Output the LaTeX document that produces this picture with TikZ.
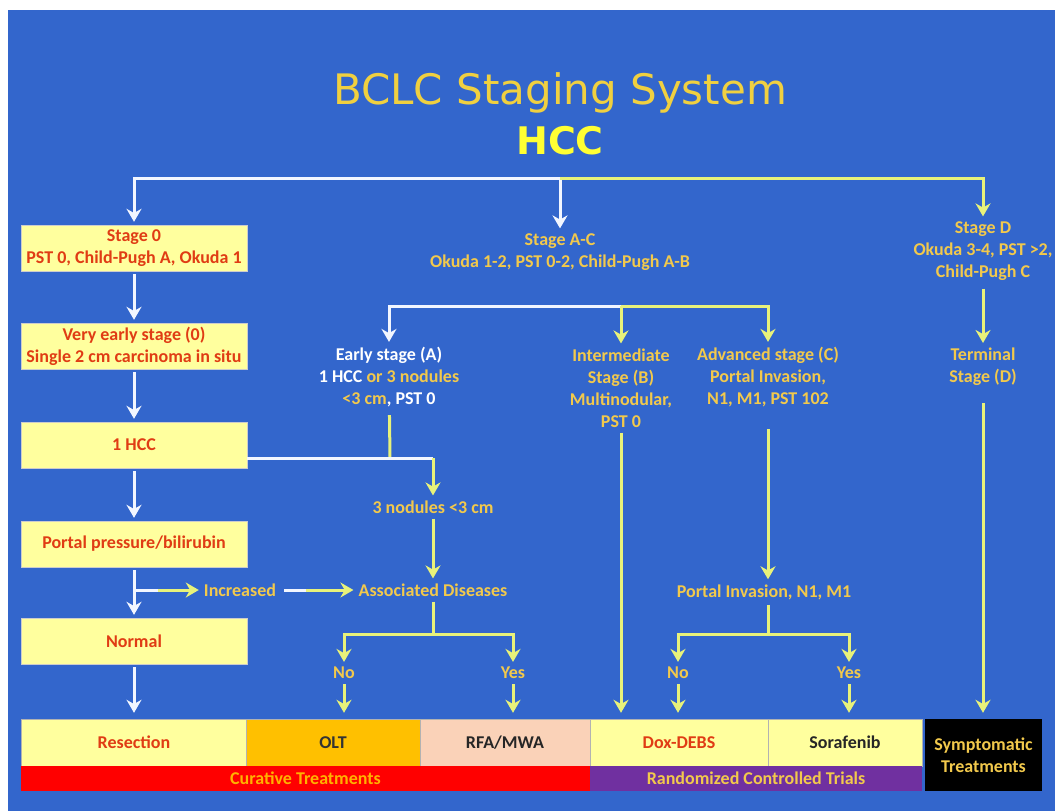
\documentclass[tikz,border=0pt]{standalone}
\usepackage{fontspec}
\setmainfont{Carlito}
\newfontfamily\titlefont{DejaVu Sans}
\usetikzlibrary{arrows.meta}

\definecolor{slideblue}{HTML}{3366CC}
\definecolor{gold}{HTML}{F2C94C}
\definecolor{titlegold}{HTML}{F0D040}
\definecolor{hccyellow}{HTML}{FFFF33}
\definecolor{paleyellow}{HTML}{FFFF9E}
\definecolor{boxred}{HTML}{E03C14}
\definecolor{oltorange}{HTML}{FFC000}
\definecolor{peach}{HTML}{FAD2B8}
\definecolor{trialpurple}{HTML}{7030A0}
\definecolor{lineyellow}{HTML}{E8F27A}
\definecolor{linewhite}{HTML}{F2F6FF}

\begin{document}
\begin{tikzpicture}[x=1pt, y=-1pt,
    txt/.style={align=center, inner sep=2pt, text=gold,
      font=\fontsize{18}{22}\selectfont\bfseries},
    leftbox/.style={txt, draw=white!60!gray, fill=paleyellow, text=boxred,
      minimum width=226pt, minimum height=46pt},
    treatbox/.style={txt, draw=gray!60, fill=paleyellow,
      minimum height=47pt},
    barbox/.style={txt, minimum height=25pt, inner sep=0pt},
    wline/.style={draw=linewhite, line width=3pt},
    yline/.style={draw=lineyellow, line width=3pt},
    tip/.style={-{Stealth[length=13pt, width=15pt]}, shorten >=3pt},
    warr/.style={wline, tip, shorten <=3pt},
    yarr/.style={yline, tip, shorten <=3pt}]

  % Background
  \useasboundingbox (0,0) rectangle (1055,811);
  \fill[white] (0,0) rectangle (1055,811);
  \fill[slideblue] (8,10) rectangle (1055,811);

  % Title
  \node[font=\titlefont\fontsize{42}{48}\selectfont, text=titlegold] (title) at (560,93) {BCLC Staging System};
  \node[font=\titlefont\bfseries\fontsize{38}{44}\selectfont, text=hccyellow] (hcc) at (560,141) {HCC};

  % Stage nodes
  \coordinate (top) at (560,178);
  \node[txt] (sac) at (560,252) {Stage A-C\\Okuda 1-2, PST 0-2, Child-Pugh A-B};
  \node[txt] (sd) at (983,251) {Stage D\\Okuda 3-4, PST >2,\\Child-Pugh C};

  % Left column
  \node[leftbox] (s0) at (134,248) {Stage 0\\PST 0, Child-Pugh A, Okuda 1};
  \node[leftbox] (ve) at (134,346) {Very early stage (0)\\Single 2 cm carcinoma in situ};
  \node[leftbox] (hc) at (134,445) {1 HCC};
  \node[leftbox] (pp) at (134,544) {Portal pressure/bilirubin};
  \node[leftbox] (nm) at (134,641) {Normal};

  % Stages A, B, C and D
  \coordinate (mid) at (621,306);
  \node[txt] (ea) at (389,377) {\textcolor{white}{Early stage (A)}\\\textcolor{white}{1 HCC} or 3 nodules\\<3 cm\textcolor{white}{, PST 0}};
  \node[txt] (ib) at (621,388) {Intermediate\\Stage (B)\\Multinodular,\\PST 0};
  \node[txt] (ac) at (768,377) {Advanced stage (C)\\Portal Invasion,\\N1, M1, PST 102};
  \node[txt] (td) at (983,367) {Terminal\\Stage (D)};

  % Decision nodes
  \coordinate (jn) at (390,458);
  \node[txt] (tn) at (433,507) {3 nodules <3 cm};
  \coordinate (br) at (134,590);
  \node[txt] (inc) at (240,590) {Increased};
  \node[txt] (ad) at (433,590) {Associated Diseases};
  \coordinate (adj) at (433,634);
  \node[txt] (no1) at (344,673) {No};
  \node[txt] (yes1) at (513,673) {Yes};
  \node[txt] (pin) at (764,592) {Portal Invasion, N1, M1};
  \coordinate (pij) at (768,634);
  \node[txt] (no2) at (678,673) {No};
  \node[txt] (yes2) at (849,673) {Yes};

  % Treatments
  \node[treatbox, text=boxred, minimum width=226pt] (res) at (134,742.5) {Resection};
  \node[treatbox, fill=oltorange, text=black!80, minimum width=174pt] (olt) at (333,742.5) {OLT};
  \node[treatbox, fill=peach, text=black!85, minimum width=170pt] (rfa) at (505,742.5) {RFA/MWA};
  \node[treatbox, text=boxred, minimum width=178pt] (dox) at (679,742.5) {Dox-DEBS};
  \node[treatbox, text=black!85, minimum width=154pt] (sor) at (845,742.5) {Sorafenib};
  \node[txt, fill=black, minimum width=117pt, minimum height=72pt] (sym) at (983.5,755) {Symptomatic\\Treatments};
  \node[barbox, fill=red, text=orange!60!yellow, minimum width=569pt] (cur) at (305.5,778.5) {Curative Treatments};
  \node[barbox, fill=trialpurple, minimum width=332pt] (rct) at (756,778.5) {Randomized Controlled Trials};

  % Connections
  \draw[wline, tip] (top) -| (s0);
  \draw[wline, tip] (top) -- (sac);
  \draw[yline, tip] (top) -| (sd);
  \draw[warr] (s0) -- (ve);
  \draw[warr] (ve) -- (hc);
  \draw[warr] (hc) -- (pp);
  \draw[warr] (pp) -- (nm);
  \draw[warr, shorten >=6pt] (nm) -- (res);
  \draw[wline, tip] (mid) -| (ea);
  \draw[yline, tip] (mid) -- (ib);
  \draw[yline, tip] (mid) -| (ac);
  \draw[yarr, shorten <=6pt] (sd) -- (td);
  \draw[yline, shorten <=6pt] (ea) -- (jn);
  \draw[wline] (hc.east |- jn) -- (jn -| tn);
  \draw[yline, tip] (jn -| tn) -- (tn);
  \draw[yarr] (tn) -- (ad);
  \draw[wline] (br) -- (br -| 160,0);
  \draw[yline, tip] (br -| 158,0) -- (inc);
  \draw[wline] (inc.east) ++(6,0) -- ++(24,0);
  \draw[yline, tip] (inc.east) ++(28,0) -- (ad);
  \draw[yline, shorten <=3pt] (ad) -- (adj);
  \draw[yline, tip] (adj) -| (no1);
  \draw[yline, tip] (adj) -| (yes1);
  \draw[yarr, shorten >=6pt] (no1) -- (no1 |- olt.north);
  \draw[yarr, shorten >=6pt] (yes1) -- (yes1 |- rfa.north);
  \draw[yarr, shorten >=6pt] (ib) -- (ib |- dox.north);
  \draw[yarr, shorten <=20pt] (ac) -- (ac |- pin.north);
  \draw[yline, shorten <=3pt] (pin.south -| pij) -- (pij);
  \draw[yline, tip] (pij) -| (no2);
  \draw[yline, tip] (pij) -| (yes2);
  \draw[yarr, shorten >=6pt] (no2) -- (no2 |- dox.north);
  \draw[yarr, shorten >=6pt] (yes2) -- (yes2 |- sor.north);
  \draw[yarr, shorten <=15pt, shorten >=6pt] (td) -- (td |- sym.north);
\end{tikzpicture}
\end{document}
